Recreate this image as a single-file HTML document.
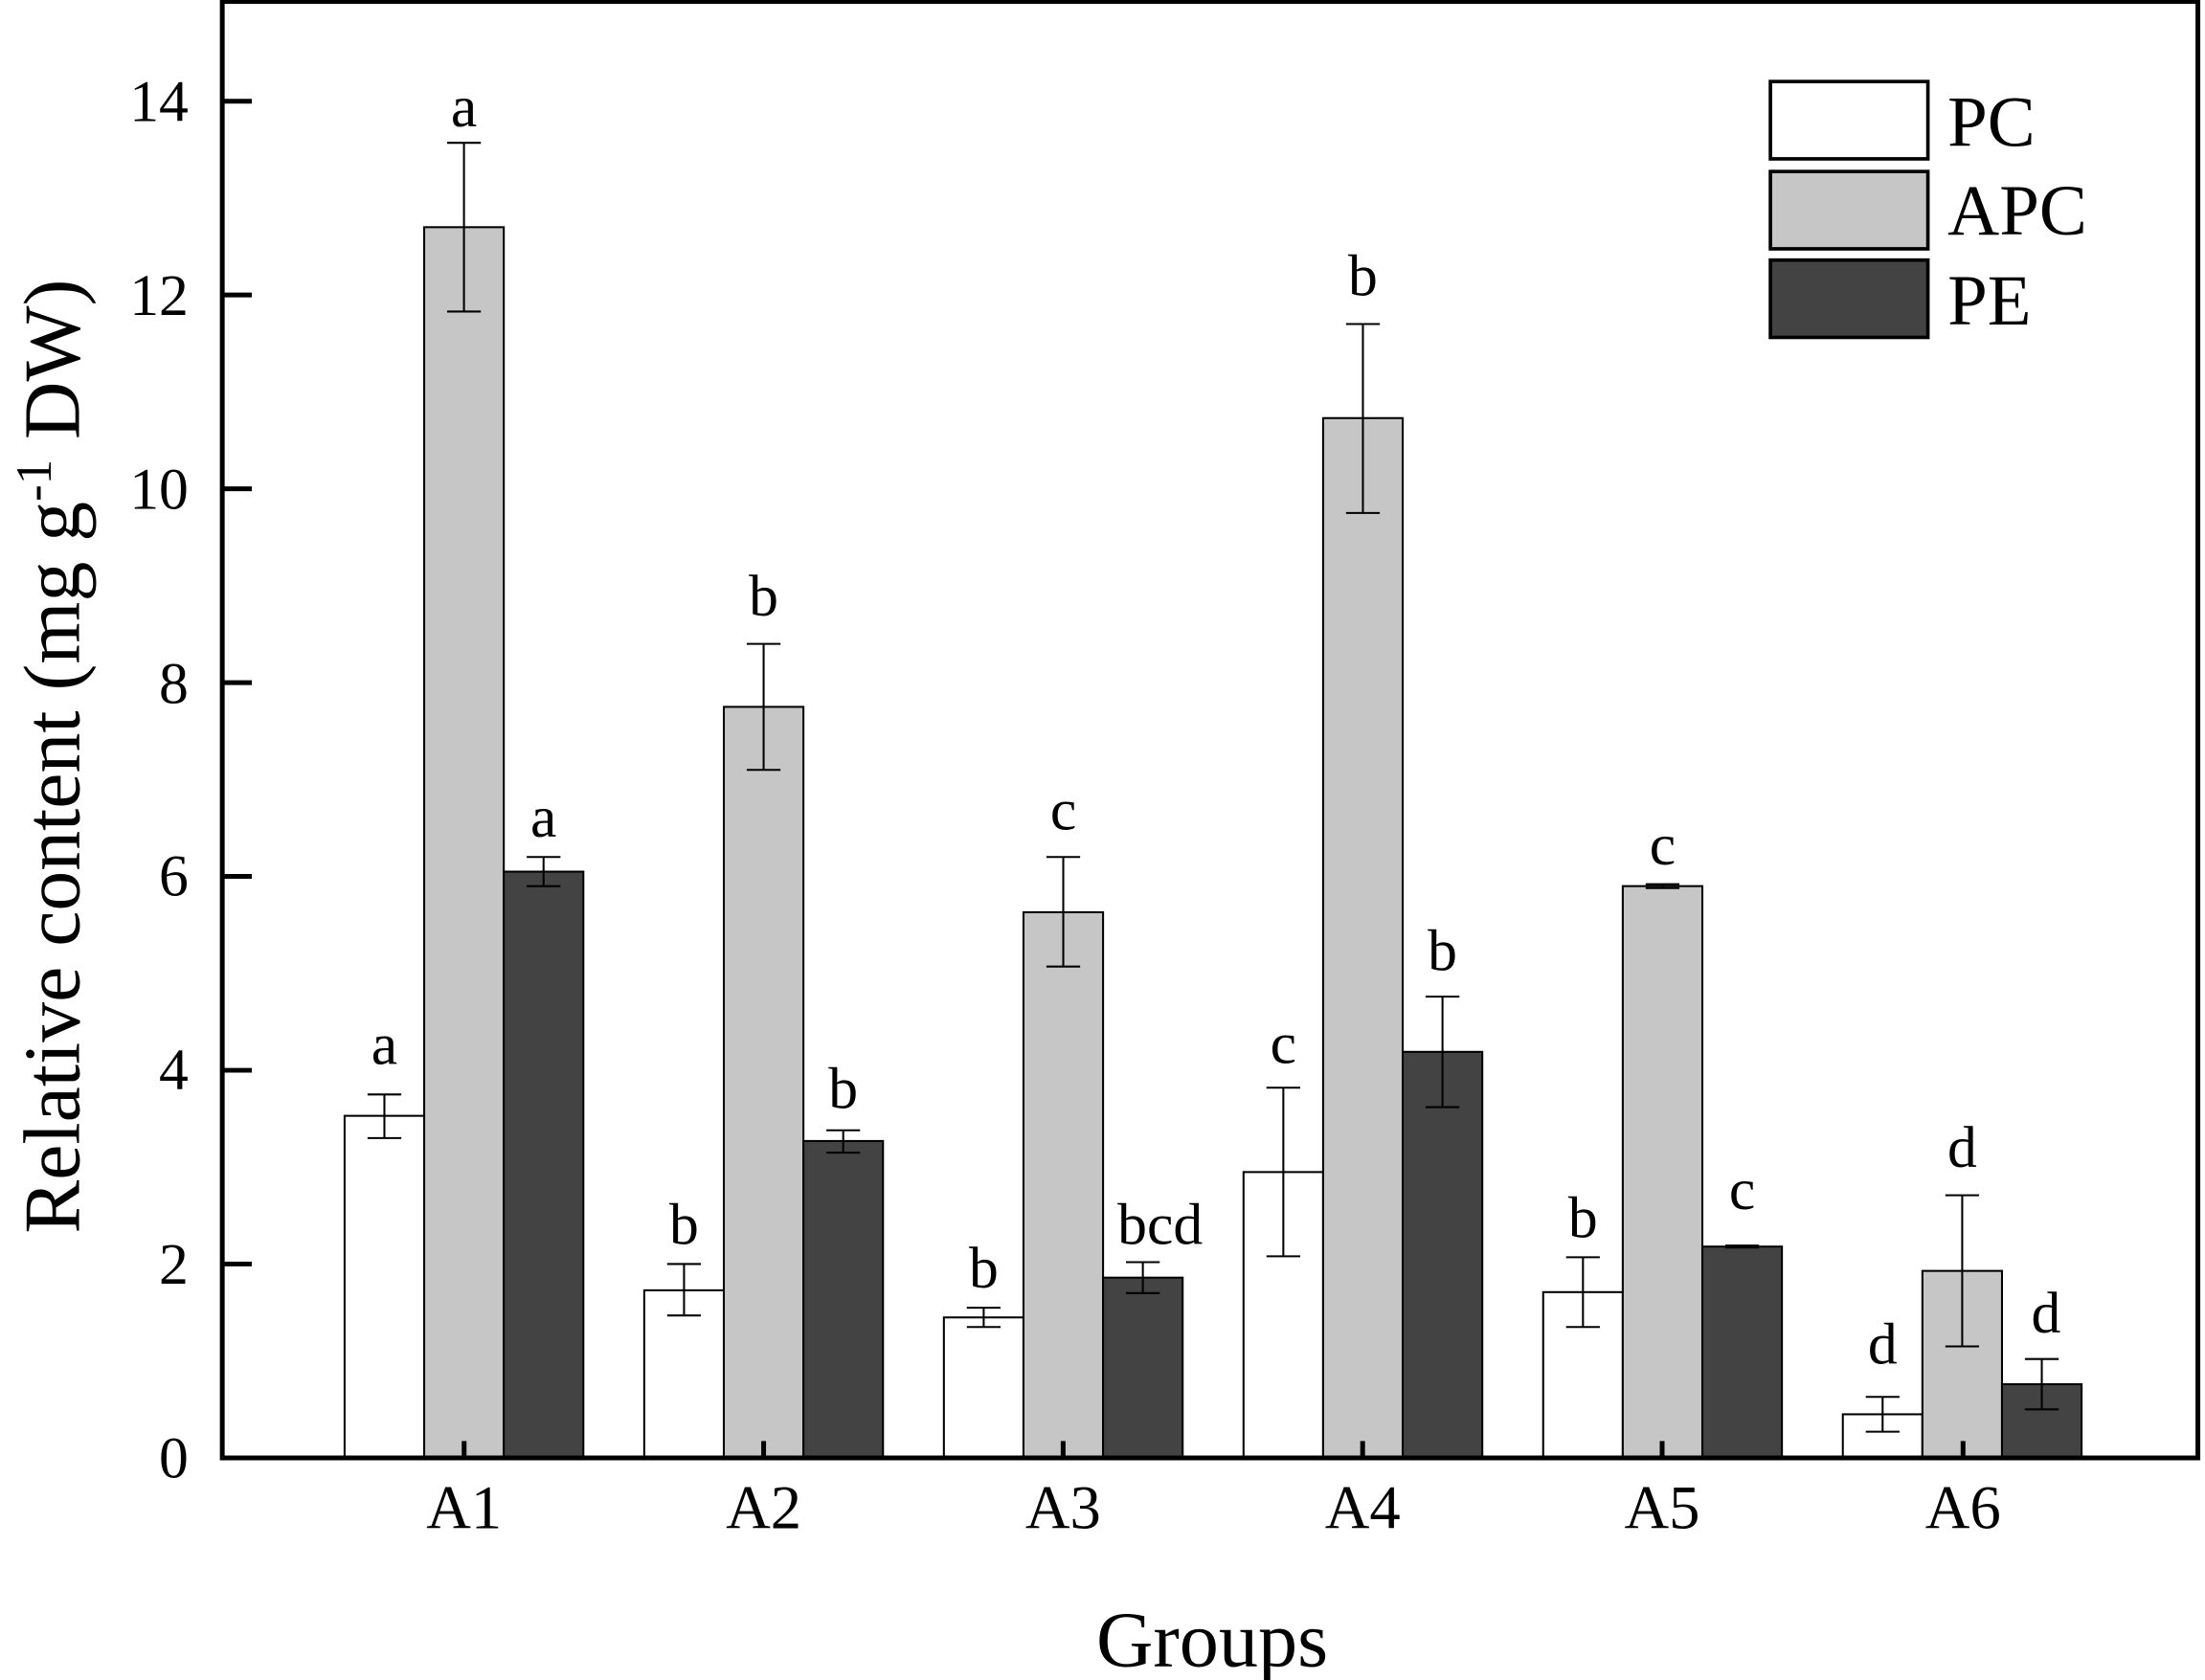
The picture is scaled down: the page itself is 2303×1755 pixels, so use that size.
<!DOCTYPE html><html><head><style>body{margin:0;background:#fff}svg{display:block}</style></head><body>
<svg width="2303" height="1755" viewBox="0 0 1568 1195" xmlns="http://www.w3.org/2000/svg" font-family="Liberation Serif, serif">
<rect width="1568" height="1195" fill="#fff"/>
<g stroke="#000" stroke-width="1.4">
<rect x="245" y="793.7" width="56.6" height="243.3" fill="#fff"/>
<rect x="301.6" y="161.6" width="56.6" height="875.4" fill="#c6c6c6"/>
<rect x="358.2" y="620" width="56.6" height="417" fill="#434343"/>
<rect x="458.1" y="917.8" width="56.6" height="119.2" fill="#fff"/>
<rect x="514.7" y="502.8" width="56.6" height="534.2" fill="#c6c6c6"/>
<rect x="571.3" y="811.6" width="56.6" height="225.4" fill="#434343"/>
<rect x="671.2" y="937.1" width="56.6" height="99.9" fill="#fff"/>
<rect x="727.8" y="648.9" width="56.6" height="388.1" fill="#c6c6c6"/>
<rect x="784.4" y="908.8" width="56.6" height="128.2" fill="#434343"/>
<rect x="884.3" y="833.7" width="56.6" height="203.3" fill="#fff"/>
<rect x="940.9" y="297.4" width="56.6" height="739.6" fill="#c6c6c6"/>
<rect x="997.5" y="748.2" width="56.6" height="288.8" fill="#434343"/>
<rect x="1097.4" y="919.1" width="56.6" height="117.9" fill="#fff"/>
<rect x="1154" y="630.3" width="56.6" height="406.7" fill="#c6c6c6"/>
<rect x="1210.6" y="886.7" width="56.6" height="150.3" fill="#434343"/>
<rect x="1310.5" y="1006" width="56.6" height="31" fill="#fff"/>
<rect x="1367.1" y="904" width="56.6" height="133" fill="#c6c6c6"/>
<rect x="1423.7" y="984.6" width="56.6" height="52.4" fill="#434343"/>
<path fill="none" d="
M273.3,809.5V778.5M261.3,809.5h24M261.3,778.5h24
M329.9,221.6V101.6M317.9,221.6h24M317.9,101.6h24
M386.5,630.3V609.6M374.5,630.3h24M374.5,609.6h24
M486.4,935.7V899.1M474.4,935.7h24M474.4,899.1h24
M543,547.6V458M531,547.6h24M531,458h24
M599.6,819.9V804M587.6,819.9h24M587.6,804h24
M699.5,943.9V930.2M687.5,943.9h24M687.5,930.2h24
M756.1,687.5V609.6M744.1,687.5h24M744.1,609.6h24
M812.7,919.8V897.8M800.7,919.8h24M800.7,897.8h24
M912.6,893.6V773.7M900.6,893.6h24M900.6,773.7h24
M969.2,364.9V230.5M957.2,364.9h24M957.2,230.5h24
M1025.8,787.5V708.9M1013.8,787.5h24M1013.8,708.9h24
M1125.7,943.9V894.3M1113.7,943.9h24M1113.7,894.3h24
M1182.3,631.7V628.9M1170.3,631.7h24M1170.3,628.9h24
M1238.9,887.4V886M1226.9,887.4h24M1226.9,886h24
M1338.8,1018.4V993.6M1326.8,1018.4h24M1326.8,993.6h24
M1395.4,957.7V850.2M1383.4,957.7h24M1383.4,850.2h24
M1452,1002.5V966.7M1440,1002.5h24M1440,966.7h24"/>
</g>
<g font-size="42" text-anchor="middle">
<text x="273.3" y="757">a</text><text x="329.9" y="90">a</text><text x="386.5" y="595">a</text>
<text x="486.4" y="885">b</text><text x="543" y="438">b</text><text x="599.6" y="788">b</text>
<text x="699.5" y="916">b</text><text x="756.1" y="590">c</text><text x="825" y="885">bcd</text>
<text x="912.6" y="756">c</text><text x="969.2" y="210">b</text><text x="1025.8" y="690">b</text>
<text x="1125.7" y="880">b</text><text x="1182.3" y="615">c</text><text x="1238.9" y="860">c</text>
<text x="1338.8" y="970">d</text><text x="1395.4" y="830">d</text><text x="1455" y="948">d</text>
</g>
<path d="M158,1 L1563,1 L1563,1037 L158,1037 Z" stroke="#000" stroke-width="3.4" fill="none"/>
<path stroke="#000" stroke-width="3.4" d="M158,1037h21M158,899.1h21M158,761.3h21M158,623.4h21M158,485.6h21M158,347.7h21M158,209.8h21M158,72h21
M330,1037v-12M543,1037v-12M756,1037v-12M969,1037v-12M1182,1037v-12M1396,1037v-12"/>
<g font-size="42" text-anchor="end">
<text x="134" y="1051">0</text><text x="134" y="913">2</text><text x="134" y="775">4</text><text x="134" y="637">6</text><text x="134" y="500">8</text><text x="134" y="362">10</text><text x="134" y="224">12</text><text x="134" y="86">14</text>
</g>
<g font-size="44" text-anchor="middle">
<text x="330" y="1087">A1</text><text x="543" y="1087">A2</text><text x="756" y="1087">A3</text><text x="969" y="1087">A4</text><text x="1182" y="1087">A5</text><text x="1396" y="1087">A6</text>
</g>
<text x="862" y="1185" font-size="56" text-anchor="middle">Groups</text>
<text transform="translate(56,538) rotate(-90)" font-size="57" text-anchor="middle">Relative content (mg g<tspan dy="-20" font-size="36">-1</tspan><tspan dy="20"> DW)</tspan></text>
<g stroke="#000" stroke-width="2.5">
<rect x="1259" y="58" width="112" height="55" fill="#fff"/>
<rect x="1259" y="122" width="112" height="55" fill="#c6c6c6"/>
<rect x="1259" y="185" width="112" height="55" fill="#434343"/>
</g>
<g font-size="51"><text x="1385" y="104">PC</text><text x="1385" y="167">APC</text><text x="1385" y="231">PE</text></g>
</svg></body></html>
